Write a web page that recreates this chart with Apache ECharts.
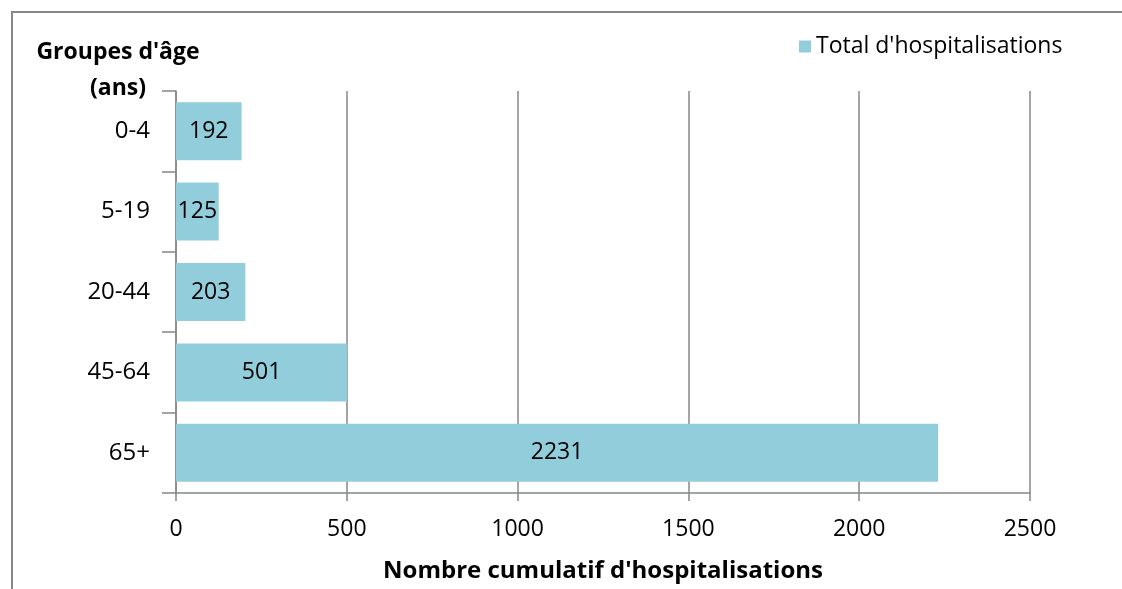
<!DOCTYPE html>
<html>
<head>
<meta charset="utf-8">
<script src="https://cdn.jsdelivr.net/npm/echarts@6/dist/echarts.min.js"></script>
<style>
  html, body { margin: 0; padding: 0; background: #fff; }
  #chart { width: 1122px; height: 589px; }
</style>
</head>
<body>
<div id="chart"></div>
<script>
// groupes d'âge et hospitalisations cumulées
const ageGroups = ['0-4', '5-19', '20-44', '45-64', '65+']
const hospitalisations = [192, 125, 203, 501, 2231]
const xTicks = [0, 500, 1000, 1500, 2000, 2500]

const grey = '#878787'
const font = '"Open Sans", sans-serif'

const chart = echarts.init(document.getElementById('chart'))

const option = {
  animation: false,
  textStyle: { fontFamily: font },
  // cadre gris autour du graphique
  graphic: [
    {
      type: 'rect',
      left: 11, top: 11,
      shape: { width: 1200, height: 700 },
      style: { fill: 'transparent', stroke: grey, lineWidth: 2 },
      silent: true
    },
    {
      type: 'text',
      x: 118, y: 34,
      style: {
        text: "Groupes d'âge\n(ans)",
        font: 'bold 23px "Open Sans", sans-serif',
        fill: '#000',
        align: 'center',
        lineHeight: 36
      }
    }
  ],
  legend: {
    left: 794, top: 30,
    icon: 'rect',
    itemWidth: 12, itemHeight: 12, itemGap: 8,
    textStyle: { fontSize: 23, color: '#000', fontFamily: font }
  },
  grid: { left: 176, right: 92, top: 91, bottom: 96 },
  xAxis: {
    type: 'value',
    min: xTicks[0],
    max: xTicks[xTicks.length - 1],
    interval: 500,
    name: "Nombre cumulatif d'hospitalisations",
    nameLocation: 'middle',
    nameGap: 66,
    nameTextStyle: { fontSize: 24, fontWeight: 'bold', color: '#000', fontFamily: font },
    axisLine: { show: true, lineStyle: { color: grey, width: 1.5 } },
    axisTick: { show: true, length: 8, lineStyle: { color: grey, width: 1.5 } },
    axisLabel: { fontSize: 23, color: '#000', margin: 25, formatter: v => String(v) },
    splitLine: { show: true, lineStyle: { color: grey, width: 1.5 } }
  },
  yAxis: {
    type: 'category',
    data: ageGroups,
    inverse: true,
    axisLine: { show: true, lineStyle: { color: grey, width: 1.5 } },
    axisTick: { show: true, length: 14, lineStyle: { color: grey, width: 1.5 } },
    axisLabel: { fontSize: 24, color: '#000', margin: 26 },
    splitLine: { show: false }
  },
  series: [
    {
      name: "Total d'hospitalisations",
      type: 'bar',
      data: hospitalisations,
      barWidth: 58,
      itemStyle: { color: '#92cddc' },
      label: {
        show: true,
        position: 'inside',
        fontSize: 23,
        color: '#000',
        fontFamily: font
      }
    }
  ]
}

chart.setOption(option)
</script>
</body>
</html>
